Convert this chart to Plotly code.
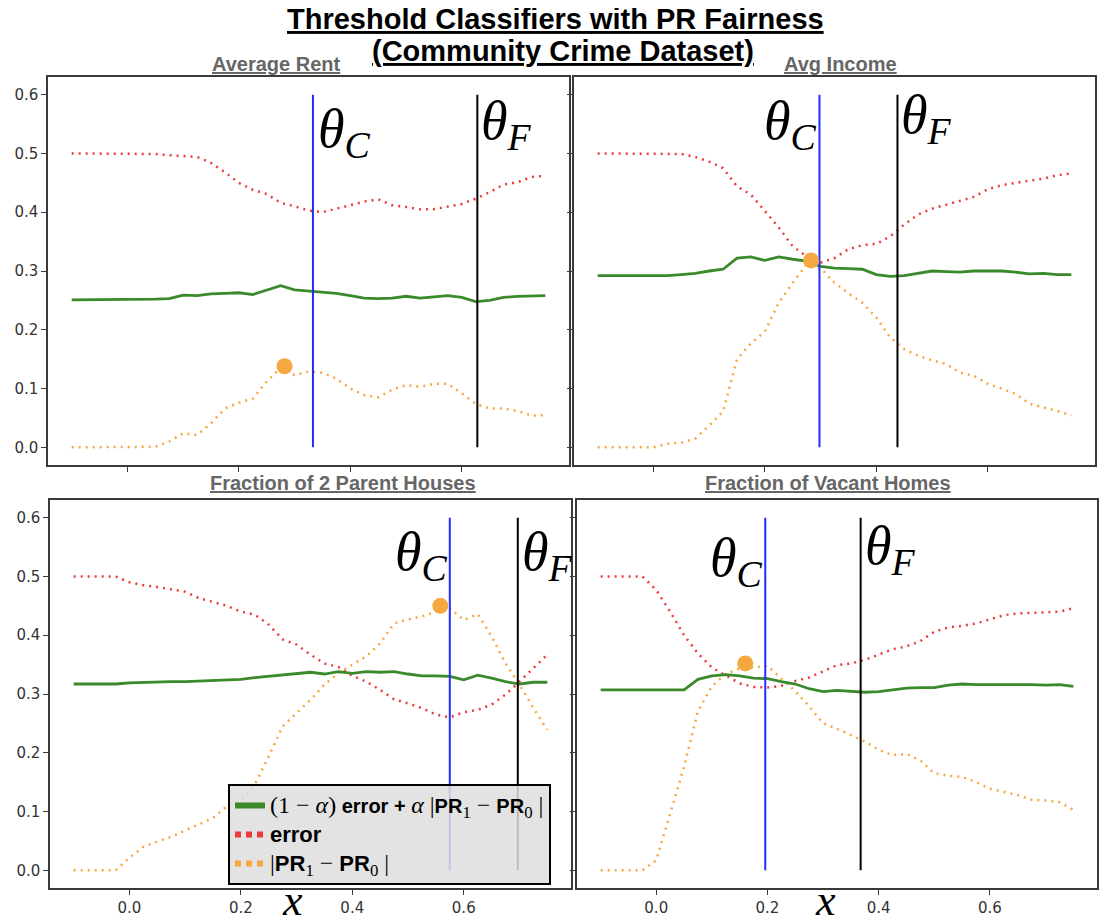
import plotly.graph_objects as go

# Thresholds swept on the x axis (shared by all four panels).
thresholds = [-0.1, -0.075, -0.05, -0.025, 0.0, 0.025, 0.05, 0.075, 0.1, 0.125,
              0.15, 0.175, 0.2, 0.225, 0.25, 0.275, 0.3, 0.325, 0.35, 0.375,
              0.4, 0.425, 0.45, 0.475, 0.5, 0.525, 0.55, 0.575, 0.6, 0.625,
              0.65, 0.675, 0.7, 0.725, 0.75]

# Average Rent
rent_objective = [0.251, 0.251, 0.251, 0.251, 0.251, 0.252, 0.252, 0.253, 0.259, 0.258,
                  0.261, 0.262, 0.263, 0.260, 0.267, 0.275, 0.268, 0.266, 0.263, 0.262,
                  0.258, 0.254, 0.253, 0.254, 0.257, 0.254, 0.256, 0.258, 0.255, 0.248,
                  0.250, 0.255, 0.257, 0.257, 0.258]
rent_error = [0.5, 0.5, 0.5, 0.5, 0.5, 0.5, 0.499, 0.497, 0.495, 0.494,
              0.484, 0.468, 0.45, 0.438, 0.431, 0.416, 0.41, 0.403, 0.4, 0.406,
              0.413, 0.418, 0.422, 0.412, 0.409, 0.405, 0.405, 0.41, 0.414, 0.423,
              0.434, 0.447, 0.451, 0.46, 0.462]
rent_pr_gap = [0, 0, 0, 0, 0, 0, 0.001, 0.01, 0.024, 0.021,
               0.041, 0.066, 0.076, 0.083, 0.112, 0.135, 0.123, 0.129, 0.127, 0.117,
               0.1, 0.089, 0.085, 0.098, 0.106, 0.103, 0.108, 0.108, 0.092, 0.074,
               0.066, 0.066, 0.062, 0.054, 0.055]

# Avg Income
income_objective = [0.292, 0.292, 0.292, 0.292, 0.292, 0.292, 0.294, 0.296, 0.300, 0.303,
                    0.322, 0.324, 0.318, 0.324, 0.320, 0.317, 0.308, 0.305, 0.304, 0.303,
                    0.294, 0.291, 0.292, 0.296, 0.300, 0.299, 0.298, 0.300, 0.300, 0.300,
                    0.298, 0.295, 0.296, 0.294, 0.294]
income_error = [0.5, 0.5, 0.5, 0.5, 0.5, 0.499, 0.499, 0.494, 0.486, 0.475,
                0.444, 0.43, 0.402, 0.374, 0.342, 0.325, 0.314, 0.322, 0.337, 0.344,
                0.346, 0.359, 0.379, 0.396, 0.406, 0.413, 0.42, 0.426, 0.439, 0.446,
                0.45, 0.454, 0.457, 0.463, 0.466]
income_pr_gap = [0, 0, 0, 0, 0, 0.006, 0.008, 0.015, 0.037, 0.061,
                 0.15, 0.177, 0.197, 0.246, 0.28, 0.311, 0.305, 0.28, 0.262, 0.246,
                 0.221, 0.187, 0.167, 0.156, 0.148, 0.142, 0.127, 0.122, 0.108, 0.1,
                 0.091, 0.074, 0.068, 0.062, 0.054]

# Fraction of 2 Parent Houses
parents_objective = [0.317, 0.317, 0.317, 0.317, 0.319, 0.32, 0.32, 0.321, 0.321, 0.322,
                     0.322, 0.323, 0.325, 0.328, 0.33, 0.333, 0.335, 0.337, 0.334, 0.338,
                     0.335, 0.338, 0.337, 0.338, 0.334, 0.331, 0.331, 0.33, 0.324, 0.332,
                     0.327, 0.321, 0.317, 0.32, 0.32]
parents_error = [0.5, 0.5, 0.5, 0.5, 0.49, 0.485, 0.482, 0.478, 0.474, 0.463,
                 0.456, 0.45, 0.44, 0.435, 0.418, 0.393, 0.384, 0.367, 0.352, 0.346,
                 0.331, 0.321, 0.307, 0.291, 0.284, 0.276, 0.265, 0.26, 0.269, 0.273,
                 0.282, 0.299, 0.321, 0.344, 0.367]
parents_pr_gap = [0, 0, 0, 0, 0.021, 0.04, 0.049, 0.057, 0.068, 0.079,
                  0.089, 0.109, 0.119, 0.146, 0.194, 0.245, 0.267, 0.29, 0.316, 0.335,
                  0.35, 0.364, 0.386, 0.42, 0.427, 0.432, 0.44, 0.446, 0.426, 0.436,
                  0.398, 0.352, 0.316, 0.276, 0.239]

# Fraction of Vacant Homes
vacant_objective = [0.307, 0.307, 0.307, 0.307, 0.307, 0.306, 0.307, 0.325, 0.331, 0.333,
                    0.331, 0.327, 0.326, 0.321, 0.317, 0.309, 0.304, 0.306, 0.304, 0.303,
                    0.304, 0.307, 0.31, 0.311, 0.311, 0.315, 0.317, 0.316, 0.316, 0.316,
                    0.317, 0.316, 0.315, 0.316, 0.313]
vacant_error = [0.5, 0.5, 0.5, 0.5, 0.477, 0.44, 0.4, 0.369, 0.345, 0.332,
                0.318, 0.312, 0.311, 0.314, 0.322, 0.328, 0.338, 0.349, 0.352, 0.358,
                0.367, 0.376, 0.381, 0.39, 0.406, 0.413, 0.416, 0.42, 0.427, 0.434,
                0.437, 0.438, 0.438, 0.44, 0.446]
vacant_pr_gap = [0, 0, 0, 0, 0.017, 0.096, 0.176, 0.271, 0.313, 0.334,
                 0.343, 0.345, 0.348, 0.326, 0.305, 0.279, 0.25, 0.241, 0.23, 0.219,
                 0.205, 0.196, 0.198, 0.187, 0.165, 0.161, 0.159, 0.15, 0.139, 0.133,
                 0.128, 0.12, 0.119, 0.116, 0.103]

panel_titles = ["Average Rent", "Avg Income",
                "Fraction of 2 Parent Houses", "Fraction of Vacant Homes"]
theta_c = [0.333, 0.298, 0.575, 0.196]     # classifier threshold (blue)
theta_f = [0.628, 0.438, 0.697, 0.3675]    # fair threshold (black)
best_x = [0.282, 0.283, 0.558, 0.16]       # orange marker
best_y = [0.138, 0.318, 0.45, 0.352]
line_span = [0.0, 0.6]
y_ticks = [0.0, 0.1, 0.2, 0.3, 0.4, 0.5, 0.6]
x_ticks = [0.0, 0.2, 0.4, 0.6]

objectives = [rent_objective, income_objective, parents_objective, vacant_objective]
errors = [rent_error, income_error, parents_error, vacant_error]
gaps = [rent_pr_gap, income_pr_gap, parents_pr_gap, vacant_pr_gap]

GREEN = "#3a8a2c"
RED = "#ee3a3a"
ORANGE = "#f5a83f"
BLUE = "#1f2fff"
FRAME = "#3a3a3a"
SERIF = "Liberation Serif"

W, H = 1110, 924
OFF = 8  # the page body margin shifts the figure by this many pixels


def px(x):
    return (x - OFF) / W


def py(y):
    return 1 - (y - OFF) / H


# axis boxes in page pixels: left, right, top, bottom
boxes = [(48, 569, 77, 465), (574, 1095, 77, 465),
         (50, 571, 500, 888), (577, 1097, 500, 888)]
# where the theta labels sit relative to their lines
theta_c_side = ["left", "right", "right", "right"]
theta_c_y = [0.535, 0.55, 0.535, 0.525]
theta_f_y = [0.55, 0.56, 0.535, 0.545]

fig = go.Figure()

for i in range(4):
    xa = "x" if i == 0 else f"x{i + 1}"
    ya = "y" if i == 0 else f"y{i + 1}"
    fig.add_trace(go.Scatter(x=thresholds, y=errors[i], xaxis=xa, yaxis=ya, mode="lines",
                             line=dict(color=RED, width=2.5, dash="2px,5px"), showlegend=False))
    fig.add_trace(go.Scatter(x=thresholds, y=gaps[i], xaxis=xa, yaxis=ya, mode="lines",
                             line=dict(color=ORANGE, width=2.5, dash="2px,5px"), showlegend=False))
    fig.add_trace(go.Scatter(x=thresholds, y=objectives[i], xaxis=xa, yaxis=ya, mode="lines",
                             line=dict(color=GREEN, width=2.8), showlegend=False))
    fig.add_trace(go.Scatter(x=[theta_c[i], theta_c[i]], y=line_span, xaxis=xa, yaxis=ya,
                             mode="lines", line=dict(color=BLUE, width=2), showlegend=False))
    fig.add_trace(go.Scatter(x=[theta_f[i], theta_f[i]], y=line_span, xaxis=xa, yaxis=ya,
                             mode="lines", line=dict(color="black", width=2), showlegend=False))
    fig.add_trace(go.Scatter(x=[best_x[i]], y=[best_y[i]], xaxis=xa, yaxis=ya, mode="markers",
                             marker=dict(color=ORANGE, size=16), showlegend=False))

    left, right, top, bottom = boxes[i]
    axis_common = dict(showline=True, mirror=True, linecolor=FRAME, linewidth=1.5,
                       ticks="outside", ticklen=5, tickcolor=FRAME, showgrid=False,
                       zeroline=False, tickfont=dict(family="DejaVu Sans", size=15, color="#333"))
    fig.layout[f"xaxis{i + 1}" if i else "xaxis"] = dict(
        domain=[px(left), px(right)], anchor=ya, range=[-0.1425, 0.7925],
        tickvals=x_ticks, tickformat=".1f", showticklabels=i >= 2, **axis_common)
    fig.layout[f"yaxis{i + 1}" if i else "yaxis"] = dict(
        domain=[py(bottom), py(top)], anchor=xa, range=[-0.03, 0.63],
        tickvals=y_ticks, tickformat=".1f", showticklabels=i % 2 == 0, **axis_common)

    theta_font = dict(family=SERIF, size=54, color="black")
    fig.add_annotation(x=theta_c[i], y=theta_c_y[i], xref=xa, yref=ya, showarrow=False,
                       text="<i>θ</i><sub><i>C</i></sub>", font=theta_font, yanchor="middle",
                       xanchor=theta_c_side[i], xshift=3 if theta_c_side[i] == "left" else 0)
    fig.add_annotation(x=theta_f[i], y=theta_f_y[i], xref=xa, yref=ya, showarrow=False,
                       text="<i>θ</i><sub><i>F</i></sub>", font=theta_font, yanchor="middle",
                       xanchor="left", xshift=2)

# legend-only entries with thicker samples
math = f'<span style="font-family:{SERIF};font-size:24px">'
big = '<span style="font-size:22px">'
fig.add_trace(go.Scatter(
    x=[None], y=[None], mode="lines", line=dict(color=GREEN, width=6),
    name=f"{math}(1 − <i>α</i>)</span> <b>error + </b>{math}<i>α</i> |</span>"
         f"<b>PR</b>{math}<sub>1</sub> − </span><b>PR</b>{math}<sub>0</sub> |</span>"))
fig.add_trace(go.Scatter(x=[None], y=[None], mode="lines",
                         line=dict(color=RED, width=6, dash="6px,5px"),
                         name=f"{big}<b>error</b></span>"))
fig.add_trace(go.Scatter(
    x=[None], y=[None], mode="lines", line=dict(color=ORANGE, width=6, dash="6px,5px"),
    name=f"{math}|</span>{big}<b>PR</b></span>{math}<sub>1</sub> − </span>"
         f"{big}<b>PR</b></span>{math}<sub>0</sub> |</span>"))

title_font = dict(family="Liberation Sans", size=29, color="black")
fig.add_annotation(x=px(555), y=py(19), xref="paper", yref="paper", showarrow=False,
                   xanchor="center", yanchor="middle",
                   text="<b><u>Threshold Classifiers with PR Fairness</u></b>", font=title_font)
fig.add_annotation(x=px(563), y=py(51), xref="paper", yref="paper", showarrow=False,
                   xanchor="center", yanchor="middle",
                   text="<b><u>(Community Crime Dataset)</u></b>", font=title_font)

sub_pos = [(276, 64), (840, 64), (343, 483), (828, 483)]
for title, (cx, cy) in zip(panel_titles, sub_pos):
    fig.add_annotation(x=px(cx), y=py(cy), xref="paper", yref="paper", showarrow=False,
                       xanchor="center", yanchor="middle", text=f"<b><u>{title}</u></b>",
                       font=dict(family="Liberation Sans", size=20, color="#666"))

for cx in (292, 825):
    fig.add_annotation(x=px(cx), y=py(900), xref="paper", yref="paper", showarrow=False,
                       xanchor="center", yanchor="middle", text="<i>x</i>",
                       font=dict(family=SERIF, size=44, color="black"))

fig.update_layout(
    width=W, height=H, margin=dict(l=0, r=0, t=0, b=0),
    plot_bgcolor="white", paper_bgcolor="white",
    showlegend=True,
    legend=dict(x=px(228), y=py(784), xanchor="left", yanchor="top",
                bgcolor="rgba(222,222,222,0.85)", bordercolor="black", borderwidth=2,
                font=dict(family="Liberation Sans", size=20, color="black"),
                tracegroupgap=0),
)

fig.write_html("out.html")
